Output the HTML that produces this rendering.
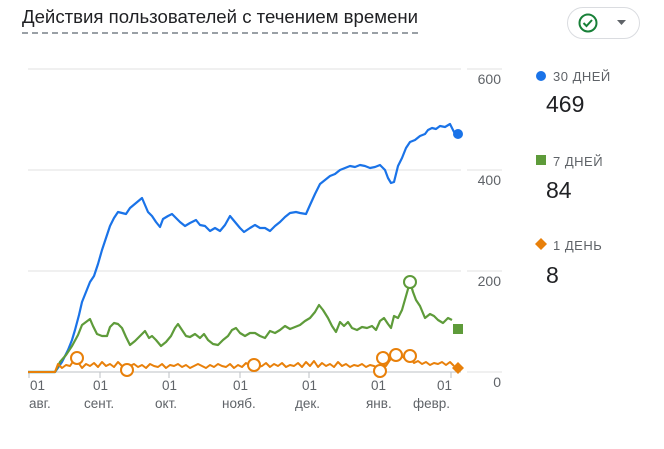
<!DOCTYPE html>
<html><head><meta charset="utf-8"><style>
body{margin:0;width:664px;height:449px;background:#fff;font-family:"Liberation Sans",sans-serif;overflow:hidden;position:relative}
.t{position:absolute;left:22px;top:6px;font-size:18.6px;color:#202124;padding-bottom:4px;border-bottom:2px dashed #9aa0a6;line-height:22px}
.btn{position:absolute;left:567px;top:7px;width:73px;height:32px;border:1px solid #dadce0;border-radius:17px;box-sizing:border-box}
.lg{position:absolute;font-size:13px;color:#5f6368;letter-spacing:.5px}
.lv{position:absolute;font-size:23px;color:#202124}
</style></head><body>
<div class="t">Действия пользователей с течением времени</div>
<div class="btn"><svg width="73" height="32" style="position:absolute;left:-1px;top:-1px"><circle cx="21" cy="16" r="8.5" fill="none" stroke="#188038" stroke-width="2"/><path d="M16.5 16l3 3 5.5-6" fill="none" stroke="#188038" stroke-width="2"/><path d="M50 13h9l-4.5 5z" fill="#5f6368"/></svg></div>
<svg width="664" height="449" style="position:absolute;left:0;top:0" font-family="Liberation Sans, sans-serif">
<g stroke="#e0e0e0" stroke-width="1">
<line x1="28" y1="69" x2="461" y2="69"/><line x1="467" y1="69" x2="502" y2="69"/>
<line x1="28" y1="170" x2="461" y2="170"/><line x1="467" y1="170" x2="502" y2="170"/>
<line x1="28" y1="271" x2="461" y2="271"/><line x1="467" y1="271" x2="502" y2="271"/>
<line x1="28" y1="372" x2="461" y2="372" stroke="#bdc1c6"/><line x1="467" y1="372" x2="502" y2="372"/>
</g>
<g fill="#5f6368" font-size="14" text-anchor="end">
<text x="501" y="84">600</text><text x="501" y="185">400</text><text x="501" y="286">200</text><text x="501" y="387">0</text>
</g>
<g stroke="#bdc1c6"><line x1="29" y1="372" x2="29" y2="378"/><line x1="100" y1="372" x2="100" y2="378"/><line x1="169" y1="372" x2="169" y2="378"/><line x1="240" y1="372" x2="240" y2="378"/><line x1="309" y1="372" x2="309" y2="378"/><line x1="378" y1="372" x2="378" y2="378"/><line x1="451" y1="372" x2="451" y2="378"/></g>
<g fill="#5f6368" font-size="13.5">
<text x="30" y="390">01</text><text x="29" y="408">авг.</text>
<text x="93" y="390">01</text><text x="84" y="408">сент.</text>
<text x="162" y="390">01</text><text x="155" y="408">окт.</text>
<text x="233" y="390">01</text><text x="222" y="408">нояб.</text>
<text x="302" y="390">01</text><text x="295" y="408">дек.</text>
<text x="371" y="390">01</text><text x="366" y="408">янв.</text>
<text x="437" y="390">01</text><text x="413" y="408">февр.</text>
</g>
<polyline fill="none" stroke="#1a73e8" stroke-width="2.2" stroke-linejoin="round" points="28,372 55,372 62,362 68,350 72,340 75,330 79,315 82,302 86,292 90,282 94,276 98,264 102,250 106,238 110,226 114,218 118,212 122,213 126,214 130,208 136,203 142,198 145,205 148,212 152,216 156,222 160,227 163,219 168,216 172,214 176,218 180,222 185,226 190,223 196,220 200,225 205,226 210,231 215,228 220,231 225,225 230,216 235,222 240,228 244,232 250,228 255,225 260,228 265,228 270,231 275,226 280,222 285,217 290,213 296,212 300,213 306,214 310,205 315,194 320,184 325,180 330,176 335,174 340,170 345,168 350,166 355,167 360,165 365,166 370,168 375,167 380,165 385,170 388,178 391,183 394,182 398,166 402,158 406,148 410,142 415,140 420,136 425,134 428,130 432,128 436,129 440,126 445,127 450,124 454,132 458,134"/>
<circle cx="458" cy="134" r="5" fill="#1a73e8"/>
<polyline fill="none" stroke="#5e9b3a" stroke-width="2.2" stroke-linejoin="round" points="28,372 55,372 60,362 66,355 72,346 78,335 82,325 86,322 90,319 93,326 97,334 102,336 107,336 110,327 114,323 118,324 122,328 126,337 130,345 135,341 140,336 145,331 149,338 152,336 156,340 161,346 166,342 171,336 175,328 178,324 182,330 186,336 190,337 195,334 200,338 204,334 208,340 213,344 218,345 223,340 228,336 232,330 236,328 240,333 245,336 250,333 255,333 260,336 265,338 270,331 275,333 280,330 285,326 290,329 295,327 300,325 305,321 310,318 315,312 319,305 323,310 328,318 332,326 336,332 340,322 344,326 348,322 352,328 357,330 362,327 367,328 372,326 376,330 380,321 384,318 388,324 391,328 394,316 398,318 402,310 406,296 410,282 413,292 416,300 420,306 425,318 430,314 434,316 438,320 443,323 448,318 452,320"/>
<rect x="453" y="324" width="10" height="10" fill="#5e9b3a"/>
<circle cx="410" cy="282" r="6" fill="#fff" stroke="#5e9b3a" stroke-width="2"/>
<polyline fill="none" stroke="#e8800a" stroke-width="2" stroke-linejoin="round" points="28,372 55,372 58,364 62,368 66,365 70,366 74,360 78,362 82,368 86,364 90,366 94,363 98,367 102,362 106,366 110,364 114,367 118,362 122,366 126,369 130,366 134,364 138,367 142,365 146,368 150,364 154,366 158,367 162,364 166,368 170,365 174,366 178,364 182,367 186,365 190,368 194,366 198,364 202,366 206,368 210,365 214,367 218,364 222,366 226,367 230,364 234,368 238,365 242,367 246,363 250,366 254,365 258,367 262,366 266,363 270,367 274,364 278,366 282,363 286,367 290,365 294,366 298,363 302,367 306,362 310,366 314,361 318,367 322,363 326,366 330,364 334,367 338,362 342,366 346,364 350,367 354,365 358,366 362,364 366,367 370,365 374,366 378,368 382,364 386,366 390,360 394,357 398,360 402,356 406,360 410,358 414,363 418,361 422,364 426,362 430,365 434,363 438,364 442,362 446,365 450,362 454,366"/>
<path d="M458 362l6 6-6 6-6-6z" fill="#e8800a"/>
<g fill="#fff" stroke="#e8800a" stroke-width="2">
<circle cx="77" cy="358" r="6"/><circle cx="127" cy="370" r="6"/><circle cx="254" cy="365" r="6"/><circle cx="380" cy="371" r="6"/><circle cx="383" cy="358" r="6"/><circle cx="396" cy="355" r="6"/><circle cx="410" cy="356" r="6"/>
</g>
<circle cx="541" cy="76" r="5" fill="#1a73e8"/>
<rect x="536" y="155" width="10" height="10" fill="#5e9b3a"/>
<path d="M541 238l6 6-6 6-6-6z" fill="#e8800a"/>
</svg>
<div class="lg" style="left:553px;top:69px">30 ДНЕЙ</div>
<div class="lv" style="left:546px;top:91px">469</div>
<div class="lg" style="left:553px;top:154px">7 ДНЕЙ</div>
<div class="lv" style="left:546px;top:177px">84</div>
<div class="lg" style="left:553px;top:238px">1 ДЕНЬ</div>
<div class="lv" style="left:546px;top:262px">8</div>
</body></html>
